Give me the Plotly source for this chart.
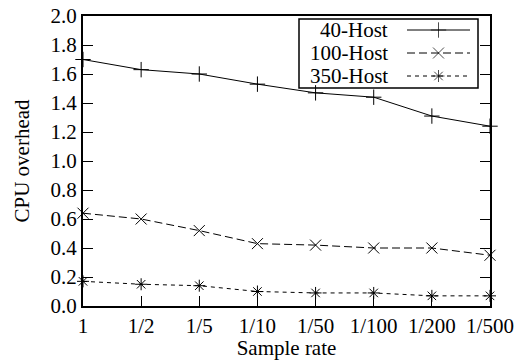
import plotly.graph_objects as go

categories = ["1", "1/2", "1/5", "1/10", "1/50", "1/100", "1/200", "1/500"]
host40 = [1.70, 1.63, 1.60, 1.53, 1.47, 1.44, 1.31, 1.24]
host100 = [0.64, 0.60, 0.52, 0.43, 0.42, 0.40, 0.40, 0.35]
host350 = [0.17, 0.15, 0.14, 0.10, 0.09, 0.09, 0.07, 0.07]
series_names = ["40-Host", "100-Host", "350-Host"]
y_ticks = [0.0, 0.2, 0.4, 0.6, 0.8, 1.0, 1.2, 1.4, 1.6, 1.8, 2.0]

FONT = "Liberation Serif, Times New Roman, serif"
FS = 21
styles = [
    dict(dash="solid", symbol="cross-thin-open", size=11),
    dict(dash="8px,4px", symbol="x-thin-open", size=11),
    dict(dash="4px,4px", symbol="asterisk-open", size=10),
]

fig = go.Figure()
for name, vals, st in zip(series_names, [host40, host100, host350], styles):
    fig.add_trace(go.Scatter(
        x=categories, y=vals, mode="lines+markers", name=name,
        line=dict(color="black", width=1, dash=st["dash"]),
        marker=dict(symbol=st["symbol"], size=st["size"], color="black",
                    line=dict(color="black", width=1)),
        cliponaxis=False, showlegend=False,
    ))

# custom gnuplot-style legend (text on the left, sample on the right)
W, H, L, R, T, B = 519, 360, 83, 29, 16, 54
pw, ph = W - L - R, H - T - B
def px(x):
    return (x - L) / pw
def py(y):
    return (H - B - y) / ph

rows_y = [30, 53, 76]
for name, st, ry in zip(series_names, styles, rows_y):
    fig.add_trace(go.Scatter(
        x=[px(407), px(438.5), px(470)], y=[py(ry)] * 3,
        xaxis="x2", yaxis="y2", mode="lines+markers",
        line=dict(color="black", width=1, dash=st["dash"]),
        marker=dict(symbol=st["symbol"], size=[0, st["size"], 0], color="black",
                    line=dict(color="black", width=1)),
        showlegend=False, hoverinfo="skip", cliponaxis=False,
    ))
    fig.add_annotation(x=px(390), y=py(ry), xref="paper", yref="paper",
                       text=name, showarrow=False, xanchor="right", yanchor="middle",
                       font=dict(family=FONT, size=FS, color="black"))

fig.add_shape(type="rect", xref="paper", yref="paper",
              x0=px(299), x1=px(478), y0=py(88), y1=py(19),
              line=dict(color="black", width=1.5), fillcolor="white", layer="below")

fig.update_layout(
    width=W, height=H,
    margin=dict(l=L, r=R, t=T, b=B),
    paper_bgcolor="white", plot_bgcolor="white",
    font=dict(family=FONT, size=FS, color="black"),
    xaxis=dict(
        type="category", range=[0, 7], showgrid=False, zeroline=False,
        showline=True, linecolor="black", linewidth=2, mirror=True,
        ticks="inside", ticklen=10, tickcolor="black", tickwidth=1,
        title=dict(text="Sample rate", standoff=2, font=dict(size=FS)),
        tickfont=dict(size=FS), automargin=False,
    ),
    yaxis=dict(
        range=[0, 2.0], tickvals=y_ticks, ticktext=[f"{v:.1f}" for v in y_ticks],
        showgrid=False, zeroline=False,
        showline=True, linecolor="black", linewidth=2, mirror="ticks",
        ticks="inside", ticklen=10, tickcolor="black", tickwidth=1,
        title=dict(text="CPU overhead", standoff=15, font=dict(size=FS)),
        tickfont=dict(size=FS), automargin=False,
    ),
    xaxis2=dict(overlaying="x", range=[0, 1], visible=False, fixedrange=True),
    yaxis2=dict(overlaying="y", range=[0, 1], visible=False, fixedrange=True),
)

fig.write_html("out.html")
